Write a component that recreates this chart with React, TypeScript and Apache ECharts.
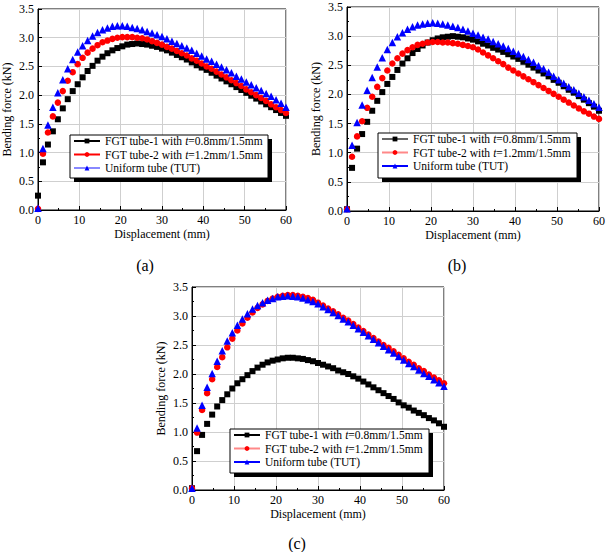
import React, { useEffect, useRef } from "react";
import * as echarts from "echarts";

const X = [0, 1.2, 2.4, 3.6, 4.8, 6, 7.2, 8.4, 9.6, 10.8, 12, 13.2, 14.4, 15.6, 16.8, 18, 19.2, 20.4, 21.6, 22.8, 24, 25.2, 26.4, 27.6, 28.8, 30, 31.2, 32.4, 33.6, 34.8, 36, 37.2, 38.4, 39.6, 40.8, 42, 43.2, 44.4, 45.6, 46.8, 48, 49.2, 50.4, 51.6, 52.8, 54, 55.2, 56.4, 57.6, 58.8, 60];

const SERIES_NAMES = [
  "FGT tube-1 with t=0.8mm/1.5mm",
  "FGT tube-2 with t=1.2mm/1.5mm",
  "Uniform tube (TUT)",
];
const PANEL_LABELS = ["(a)", "(b)", "(c)"];
const X_TICKS = [0, 10, 20, 30, 40, 50, 60];
const Y_TICKS = [0, 0.5, 1, 1.5, 2, 2.5, 3, 3.5];

// Panel (a)
const A_TUBE1 = [0.25, 0.83, 1.14, 1.37, 1.58, 1.77, 1.93, 2.07, 2.19, 2.31, 2.42, 2.51, 2.6, 2.67, 2.73, 2.78, 2.82, 2.85, 2.88, 2.89, 2.9, 2.89, 2.88, 2.86, 2.84, 2.81, 2.78, 2.74, 2.7, 2.66, 2.62, 2.57, 2.52, 2.48, 2.44, 2.39, 2.34, 2.29, 2.24, 2.19, 2.14, 2.09, 2.04, 1.99, 1.94, 1.89, 1.84, 1.79, 1.74, 1.69, 1.64];
const A_TUBE2 = [0.02, 0.98, 1.35, 1.63, 1.87, 2.07, 2.25, 2.4, 2.54, 2.65, 2.74, 2.81, 2.87, 2.92, 2.95, 2.98, 3.0, 3.01, 3.01, 3.01, 3.0, 2.99, 2.97, 2.94, 2.91, 2.88, 2.84, 2.81, 2.77, 2.73, 2.69, 2.64, 2.6, 2.55, 2.5, 2.46, 2.41, 2.36, 2.31, 2.26, 2.21, 2.16, 2.1, 2.05, 2.0, 1.95, 1.9, 1.84, 1.79, 1.74, 1.69];
const A_TUT = [0.03, 1.07, 1.48, 1.79, 2.04, 2.27, 2.46, 2.62, 2.75, 2.86, 2.95, 3.03, 3.09, 3.14, 3.17, 3.2, 3.21, 3.21, 3.2, 3.18, 3.16, 3.14, 3.11, 3.08, 3.05, 3.02, 2.98, 2.94, 2.9, 2.86, 2.82, 2.78, 2.73, 2.68, 2.63, 2.59, 2.54, 2.49, 2.44, 2.39, 2.33, 2.28, 2.23, 2.18, 2.13, 2.08, 2.03, 1.98, 1.92, 1.86, 1.79];

// Panel (b)
const B_TUBE1 = [0.03, 0.74, 1.07, 1.32, 1.53, 1.72, 1.89, 2.04, 2.18, 2.3, 2.42, 2.53, 2.62, 2.71, 2.78, 2.84, 2.89, 2.93, 2.96, 2.98, 2.99, 3.0, 2.99, 2.98, 2.96, 2.94, 2.91, 2.87, 2.84, 2.8, 2.77, 2.73, 2.69, 2.65, 2.61, 2.56, 2.51, 2.46, 2.41, 2.36, 2.31, 2.25, 2.2, 2.14, 2.08, 2.03, 1.97, 1.91, 1.85, 1.79, 1.72];
const B_TUBE2 = [0.03, 0.93, 1.28, 1.54, 1.77, 1.96, 2.13, 2.28, 2.41, 2.53, 2.62, 2.7, 2.76, 2.81, 2.85, 2.87, 2.89, 2.9, 2.9, 2.89, 2.89, 2.88, 2.87, 2.85, 2.83, 2.81, 2.77, 2.72, 2.67, 2.62, 2.57, 2.52, 2.46, 2.41, 2.36, 2.31, 2.26, 2.21, 2.16, 2.11, 2.06, 2.01, 1.96, 1.91, 1.86, 1.81, 1.76, 1.71, 1.67, 1.62, 1.58];
const B_TUT = [0.04, 1.13, 1.52, 1.82, 2.07, 2.29, 2.47, 2.63, 2.77, 2.89, 2.99, 3.06, 3.12, 3.16, 3.19, 3.21, 3.22, 3.23, 3.22, 3.21, 3.19, 3.17, 3.15, 3.12, 3.09, 3.05, 3.02, 2.98, 2.95, 2.91, 2.87, 2.83, 2.79, 2.74, 2.7, 2.65, 2.6, 2.55, 2.49, 2.44, 2.38, 2.31, 2.25, 2.19, 2.13, 2.08, 2.02, 1.96, 1.9, 1.84, 1.78];

// Panel (c)
const C_TUBE1 = [0.03, 0.67, 0.95, 1.14, 1.3, 1.44, 1.55, 1.65, 1.75, 1.84, 1.91, 1.98, 2.05, 2.11, 2.16, 2.2, 2.23, 2.25, 2.27, 2.28, 2.28, 2.27, 2.26, 2.24, 2.22, 2.19, 2.16, 2.13, 2.1, 2.06, 2.03, 2.0, 1.96, 1.92, 1.87, 1.82, 1.77, 1.72, 1.67, 1.62, 1.57, 1.51, 1.46, 1.42, 1.37, 1.33, 1.29, 1.24, 1.2, 1.15, 1.09];
const C_TUBE2 = [0.03, 0.99, 1.38, 1.67, 1.91, 2.12, 2.29, 2.46, 2.61, 2.75, 2.87, 2.97, 3.06, 3.14, 3.2, 3.26, 3.3, 3.33, 3.35, 3.36, 3.36, 3.35, 3.33, 3.31, 3.28, 3.23, 3.18, 3.13, 3.08, 3.03, 2.97, 2.92, 2.86, 2.8, 2.74, 2.68, 2.62, 2.56, 2.5, 2.45, 2.39, 2.33, 2.27, 2.21, 2.16, 2.1, 2.05, 1.99, 1.94, 1.89, 1.84];
const C_TUT = [0.03, 1.07, 1.46, 1.77, 2.01, 2.22, 2.4, 2.57, 2.71, 2.84, 2.95, 3.04, 3.12, 3.18, 3.23, 3.27, 3.3, 3.33, 3.34, 3.35, 3.34, 3.33, 3.31, 3.28, 3.25, 3.21, 3.16, 3.11, 3.06, 3.01, 2.95, 2.9, 2.84, 2.78, 2.72, 2.66, 2.6, 2.54, 2.48, 2.42, 2.36, 2.3, 2.24, 2.18, 2.13, 2.07, 2.01, 1.96, 1.9, 1.85, 1.79];

const PANELS = [
  [A_TUBE1, A_TUBE2, A_TUT],
  [B_TUBE1, B_TUBE2, B_TUT],
  [C_TUBE1, C_TUBE2, C_TUT],
];

const FONT = "Liberation Serif";

const GRIDS = [
  { left: 36, top: 9, width: 250, height: 201 },
  { left: 347, top: 7, width: 255, height: 204 },
  { left: 192, top: 287, width: 252, height: 203 },
];
const LEGEND_BOX = [
  { x: 70, y: 135, w: 198, h: 43 },
  { x: 378, y: 133, w: 199, h: 45 },
  { x: 230, y: 429, w: 199, h: 44 },
];
const LEGEND_LINE_COLORS = [
  ["#000000", "#ff0000", "#8888ff"],
  ["#666666", "#ff8888", "#0000ff"],
  ["#000000", "#ff8888", "#0000ff"],
];
const CAPTION_POS = [
  { x: 145, y: 265 },
  { x: 457, y: 265 },
  { x: 297, y: 543 },
];

const COLORS = ["#000000", "#ff0000", "#0000ff"];
const SYMBOLS = ["rect", "circle", "triangle"];
const SIZES = [6, 6.5, 7.5];

export default function App() {
  const ref = useRef<HTMLDivElement>(null);
  useEffect(() => {
    if (!ref.current) return;
    const chart = echarts.init(ref.current, null, { renderer: "svg" });
    const grid = GRIDS.map((g) => ({
      ...g,
      show: true,
      borderColor: "#000",
      borderWidth: 1,
      backgroundColor: "transparent",
    }));
    const xAxis = GRIDS.map((_, i) => ({
      type: "value",
      gridIndex: i,
      min: X_TICKS[0],
      max: X_TICKS[X_TICKS.length - 1],
      interval: 10,
      name: "Displacement (mm)",
      nameLocation: "middle",
      nameGap: 18,
      nameTextStyle: { fontFamily: FONT, fontSize: 12, color: "#000" },
      axisLine: { show: true, lineStyle: { color: "#000", width: 1 } },
      axisTick: { show: true, inside: true, length: 4, lineStyle: { color: "#000" } },
      minorTick: { show: true, splitNumber: 2, length: 2, lineStyle: { color: "#000" } },
      axisLabel: { fontFamily: FONT, fontSize: 12, color: "#000", margin: 4 },
      splitLine: { show: true, lineStyle: { color: "#cfcfcf", width: 1 } },
    }));
    const yAxis = GRIDS.map((_, i) => ({
      type: "value",
      gridIndex: i,
      min: Y_TICKS[0],
      max: Y_TICKS[Y_TICKS.length - 1],
      interval: 0.5,
      name: "Bending force (kN)",
      nameLocation: "middle",
      nameGap: 25,
      nameTextStyle: { fontFamily: FONT, fontSize: 12, color: "#000" },
      axisLine: { show: true, lineStyle: { color: "#000", width: 1 } },
      axisTick: { show: true, inside: true, length: 4, lineStyle: { color: "#000" } },
      minorTick: { show: true, splitNumber: 2, length: 2, lineStyle: { color: "#000" } },
      axisLabel: {
        fontFamily: FONT,
        fontSize: 12,
        color: "#000",
        margin: 4,
        formatter: (v: number) => v.toFixed(1),
      },
      splitLine: { show: true, lineStyle: { color: "#cfcfcf", width: 1 } },
    }));
    const series: any[] = [];
    PANELS.forEach((panel, p) => {
      panel.forEach((vals, s) => {
        series.push({
          type: "line",
          name: SERIES_NAMES[s],
          xAxisIndex: p,
          yAxisIndex: p,
          data: X.map((x, k) => [x, vals[k]]),
          symbol: SYMBOLS[s],
          symbolSize: SIZES[s],
          showAllSymbol: true,
          itemStyle: { color: COLORS[s] },
          lineStyle: { opacity: 0, width: 0, color: COLORS[s] },
          z: p === 2 && s === 1 ? 4 : 2 + s,
        });
      });
    });
    const legend = LEGEND_BOX.map((b, p) => ({
      left: b.x + 3,
      top: b.y,
      orient: "vertical",
      z: 20,
      data: SERIES_NAMES.map((n, s) => ({
        name: n,
        lineStyle: { color: LEGEND_LINE_COLORS[p][s], width: 2, opacity: 1 },
      })),
      itemWidth: 26,
      itemHeight: 6,
      itemGap: 1.5,
      padding: 0,
      lineStyle: { opacity: 1, width: 2 },
      selectedMode: false,
      formatter: (name: string) => {
        const idx = name.indexOf(" t=");
        if (idx < 0) return "{n|" + name + "}";
        return "{n|" + name.slice(0, idx + 1) + "}{i|t}{n|" + name.slice(idx + 2) + "}";
      },
      textStyle: {
        fontFamily: FONT,
        fontSize: 11.5,
        color: "#000",
        rich: {
          n: { fontFamily: FONT, fontSize: 11.5, color: "#000", height: 14 },
          i: { fontFamily: FONT, fontSize: 11.5, color: "#000", fontStyle: "italic", height: 14 },
        },
      },
    }));
    const graphic: any[] = [];
    LEGEND_BOX.forEach((b) => {
      graphic.push({
        type: "rect",
        z: 10,
        shape: { x: b.x + 4, y: b.y + 4, width: b.w, height: b.h },
        style: { fill: "#000" },
      });
      graphic.push({
        type: "rect",
        z: 11,
        shape: { x: b.x, y: b.y, width: b.w, height: b.h },
        style: { fill: "#fff", stroke: "#000", lineWidth: 1 },
      });
    });
    CAPTION_POS.forEach((c, i) => {
      graphic.push({
        type: "text",
        x: c.x,
        y: c.y,
        style: {
          text: PANEL_LABELS[i],
          fontFamily: FONT,
          fontSize: 16,
          fill: "#000",
          textAlign: "center",
          textVerticalAlign: "middle",
        },
      });
    });
    chart.setOption({
      animation: false,
      backgroundColor: "#fff",
      textStyle: { fontFamily: FONT },
      grid,
      xAxis,
      yAxis,
      legend,
      series,
      graphic,
    });
    return () => chart.dispose();
  }, []);
  return (
    <div
      ref={ref}
      style={{ position: "fixed", left: 0, top: 0, width: 608, height: 552 }}
    />
  );
}
